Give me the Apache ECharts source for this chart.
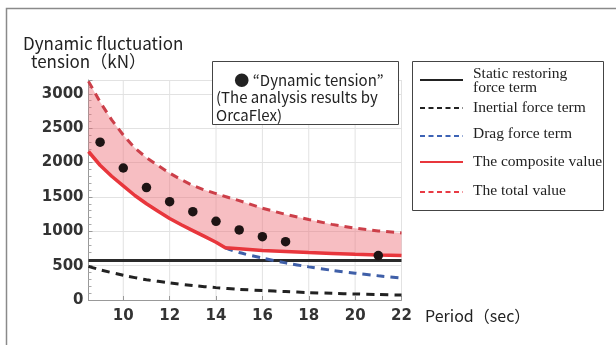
<!DOCTYPE html>
<html><head><meta charset="utf-8">
<script src="https://cdn.jsdelivr.net/npm/echarts@6/dist/echarts.min.js"></script>
<style>html,body{margin:0;padding:0;background:#fff}#c{width:616px;height:345px}</style>
</head><body><div id="c"></div><script>
// Wave period (sec) samples shared by the composite and total curves
const periods   = [8.5, 9, 9.5, 10, 10.5, 11, 11.5, 12, 12.5, 13, 13.5, 14, 14.4, 15, 16, 17, 18, 19, 20, 21, 22];
// Composite value (kN)
const composite = [2160, 1960, 1800, 1660, 1520, 1400, 1290, 1185, 1095, 1010, 925, 840, 760, 745, 720, 705, 690, 678, 665, 655, 648];
// Total value (kN)
const total     = [3180, 2880, 2620, 2400, 2210, 2070, 1955, 1845, 1750, 1665, 1600, 1548, 1505, 1445, 1335, 1245, 1170, 1100, 1045, 1005, 975];
// Drag force term (kN), shown where it separates from the composite curve
const dragPeriods = [14.4, 15, 16, 17, 18, 19, 20, 21, 22];
const drag        = [760, 690, 610, 540, 482, 432, 390, 352, 320];
// Inertial force term (kN)
const inertialPeriods = [8.5, 9, 10, 11, 12, 13, 14, 15, 16, 17, 18, 19, 20, 21, 22];
const inertial        = [490, 440, 360, 295, 250, 210, 180, 155, 137, 122, 108, 97, 88, 80, 72];
// Static restoring force term (kN)
const staticPeriods = [8.5, 22];
const staticTerm    = [575, 575];
// Dynamic tension from OrcaFlex analysis
const obsPeriods = [9, 10, 11, 12, 13, 14, 15, 16, 17, 21];
const obsTension = [2295, 1920, 1635, 1430, 1285, 1145, 1020, 921, 849, 647];
// Axis ticks
const xTicks = [10, 12, 14, 16, 18, 20, 22];

const zip = (xs, ys) => xs.map((x, i) => [x, ys[i]]);

const sans = '"Noto Sans CJK JP", "Noto Sans", sans-serif';
const serif = '"Liberation Serif", "DejaVu Serif", serif';
const labelFont = { fontFamily: '"DejaVu Sans", sans-serif', fontWeight: 'bold', fontSize: 15, color: '#333' };

const chart = echarts.init(document.getElementById('c'), null, { renderer: 'canvas' });

function legendLine(y, color, dashed) {
  return {
    type: 'line', z: 20, shape: { x1: 420, y1: y, x2: 463, y2: y },
    style: { stroke: color, lineWidth: 2, lineDash: dashed ? [5, 3.5] : null }
  };
}
function legendText(x, y, text) {
  return { type: 'text', z: 20, x: x, y: y, style: { text: text, font: '15.5px ' + serif, fill: '#222', textVerticalAlign: 'middle' } };
}

// Shaded region between the composite and total curves
function renderBand(params, api) {
  const upper = periods.map((p, i) => api.coord([p, total[i]]));
  const lower = periods.map((p, i) => api.coord([p, composite[i]])).reverse();
  return {
    type: 'polygon',
    shape: { points: upper.concat(lower) },
    style: { fill: 'rgba(238,110,120,0.45)' },
    silent: true
  };
}
// Vertical grid lines at the period ticks
function renderVGrid(params, api) {
  const p = xTicks[params.dataIndex];
  const a = api.coord([p, 0]);
  const b = api.coord([p, 3200]);
  return {
    type: 'line', shape: { x1: a[0], y1: a[1], x2: b[0], y2: b[1] },
    style: { stroke: '#e2e2e2', lineWidth: 1 }, silent: true
  };
}

chart.setOption({
  animation: false,
  grid: { left: 88.5, right: 214.5, top: 80, bottom: 45, containLabel: false },
  xAxis: {
    type: 'value', min: 8.5, max: 22,
    axisLine: { show: true, onZero: false, lineStyle: { color: '#999', width: 1 } },
    axisTick: { show: true, inside: true, length: 4, customValues: xTicks, lineStyle: { color: '#999' } },
    axisLabel: { customValues: xTicks, margin: 9, ...labelFont },
    splitLine: { show: false }
  },
  yAxis: {
    type: 'value', min: 0, max: 3200, interval: 500,
    axisLine: { show: true, lineStyle: { color: '#999', width: 1 } },
    axisTick: { show: true, inside: true, length: 4, lineStyle: { color: '#999' } },
    minorTick: { show: true, splitNumber: 5, length: 3, lineStyle: { color: '#aaa' } },
    axisLabel: { showMaxLabel: false, margin: 5, formatter: v => String(v), ...labelFont },
    splitLine: { show: true, lineStyle: { color: '#e2e2e2', width: 1 } }
  },
  series: [
    {
      name: 'vgrid', type: 'custom', renderItem: renderVGrid, silent: true, z: 0,
      data: xTicks.map(v => [v, 0])
    },
    {
      name: 'band', type: 'custom', renderItem: renderBand, silent: true, z: 1,
      data: [[periods[0], composite[0]]]
    },
    {
      name: 'Static restoring force term', type: 'line', data: zip(staticPeriods, staticTerm),
      symbol: 'none', lineStyle: { color: '#2a2a2a', width: 3 }, z: 3
    },
    {
      name: 'Inertial force term', type: 'line', data: zip(inertialPeriods, inertial),
      symbol: 'none', smooth: 0.3, lineStyle: { color: '#222', width: 3, type: [8, 6] }, z: 3
    },
    {
      name: 'Drag force term', type: 'line', data: zip(dragPeriods, drag),
      symbol: 'none', smooth: 0.3, lineStyle: { color: '#3f5fa8', width: 3, type: [8, 6] }, z: 3
    },
    {
      name: 'The composite value', type: 'line', data: zip(periods, composite),
      symbol: 'none', lineStyle: { color: '#e8363c', width: 3.5 }, z: 4
    },
    {
      name: 'The total value', type: 'line', data: zip(periods, total),
      symbol: 'none', lineStyle: { color: '#cc3f49', width: 3, type: [8, 6] }, z: 4
    },
    {
      name: 'Dynamic tension', type: 'scatter', data: zip(obsPeriods, obsTension),
      symbol: 'circle', symbolSize: 9.5, itemStyle: { color: '#1e1414', opacity: 1 }, z: 5
    }
  ],
  graphic: [
    // outer frame
    { type: 'polyline', shape: { points: [[6.5, 345], [6.5, 8.5], [616, 8.5]] }, style: { stroke: '#8a8a8a', lineWidth: 1.5, fill: null } },
    // axis titles
    { type: 'text', x: 23, y: 44, style: { text: 'Dynamic fluctuation', font: '17px ' + sans, fill: '#222', textVerticalAlign: 'middle' } },
    { type: 'text', x: 31, y: 62, style: { text: 'tension（kN）', font: '17px ' + sans, fill: '#222', textVerticalAlign: 'middle' } },
    { type: 'text', x: 425, y: 316, style: { text: 'Period（sec）', font: '16px ' + sans, fill: '#222', textVerticalAlign: 'middle' } },
    // analysis result note
    { type: 'rect', z: 10, shape: { x: 212.5, y: 61.5, width: 186, height: 63 }, style: { fill: '#fff', stroke: '#444', lineWidth: 1 } },
    { type: 'text', z: 11, x: 309, y: 80, style: { text: '● “Dynamic tension”', font: '15px ' + sans, fill: '#222', textAlign: 'center', textVerticalAlign: 'middle' } },
    { type: 'text', z: 11, x: 216, y: 97, style: { text: '(The analysis results by', font: '15px ' + sans, fill: '#222', textVerticalAlign: 'middle' } },
    { type: 'text', z: 11, x: 216, y: 115, style: { text: 'OrcaFlex)', font: '15px ' + sans, fill: '#222', textVerticalAlign: 'middle' } },
    // legend
    { type: 'rect', z: 10, shape: { x: 412.5, y: 61.5, width: 191, height: 149 }, style: { fill: '#fff', stroke: '#444', lineWidth: 1 } },
    legendLine(80, '#222', false),
    legendText(473, 74, 'Static restoring'),
    legendText(473, 88, 'force term'),
    legendLine(108, '#222', true),
    legendText(473, 108, 'Inertial force term'),
    legendLine(136, '#3d63b5', true),
    legendText(473, 134, 'Drag force term'),
    legendLine(162, '#e8363c', false),
    legendText(473, 162, 'The composite value'),
    legendLine(192, '#e83a44', true),
    legendText(473, 191, 'The total value')
  ]
});
</script></body></html>
